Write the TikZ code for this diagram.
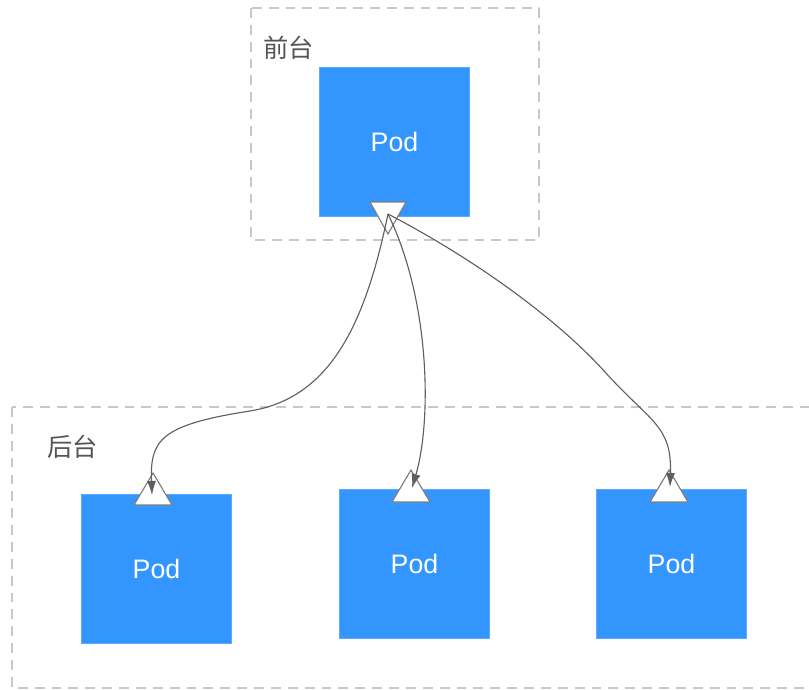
\documentclass[tikz,border=0pt]{standalone}
\usepackage{fontspec}
\setmainfont{Liberation Sans}
\newfontfamily\cjk{Noto Sans CJK SC}
\usetikzlibrary{arrows.meta,positioning}

\definecolor{podblue}{RGB}{51,150,255}
\definecolor{framegray}{RGB}{200,200,200}
\definecolor{labelgray}{RGB}{85,85,85}
\definecolor{linkgray}{RGB}{95,95,95}
\definecolor{trigray}{RGB}{125,125,125}

\tikzset{
    pod/.style={fill=podblue,draw=podblue!80!white,line width=0.5pt,inner sep=0pt,
        minimum width=107pt,minimum height=106pt,text=white,font=\fontsize{19}{22}\selectfont},
    group/.style={draw=framegray,line width=0.8pt,dash pattern=on 7pt off 5pt},
    grouplabel/.style={text=labelgray,font=\cjk\fontsize{18}{22}\selectfont,anchor=west,inner sep=0pt},
    tri/.style={draw=trigray,fill=white,line width=0.8pt,line join=miter},
    link/.style={draw=linkgray,line width=0.8pt,-{Latex[length=10pt,width=6.5pt]}}
}

\begin{document}
\begin{tikzpicture}[x=0.025cm,y=-0.025cm]
        \useasboundingbox (0,0) rectangle (809,690);

        %%%% Groups =====================================
        \draw[group] (251,8) rectangle (539,240);
        \node[grouplabel] (front) at (263,48) {前台};
        \draw[group] (12,407) rectangle (830,688);
        \node[grouplabel] (back) at (47,447) {后台};

        %%%% Pods =======================================
        \node[pod] (top) at (394.5,142) {Pod};
        \node[pod] (pod1) at (156.5,568.5) {Pod};
        \node[pod] (pod2) at (414.5,563.5) {Pod};
        \node[pod] (pod3) at (671.5,563.5) {Pod};

        %%%% Ports ======================================
        \coordinate (out) at (388,202);
        \coordinate (in1) at (153,505);
        \coordinate (in2) at (411,502);
        \coordinate (in3) at (669,502);
        \draw[tri] (out) ++(-18,0) -- ++(36,0) -- ++(-18,32) -- cycle;
        \draw[tri] (in1) ++(-19,0) -- ++(38,0) -- ++(-19,-32) -- cycle;
        \draw[tri] (in2) ++(-19,0) -- ++(38,0) -- ++(-19,-32) -- cycle;
        \draw[tri] (in3) ++(-19,0) -- ++(38,0) -- ++(-19,-32) -- cycle;

        % Arcs
        \coordinate (src) at (388,214);
        \coordinate (dst1) at (152,495);
        \coordinate (dst2) at (412,488);
        \coordinate (dst3) at (670,487);
        \draw[link] (src) .. controls (365,325) and (330,398) .. (250,411)
            .. controls (160,425) and (150,440) .. (dst1);
        \draw[link] (src) .. controls (430,300) and (432,420) .. (dst2);
        \draw[link] (src) .. controls (480,262) and (560,322) .. (605,372)
            .. controls (650,422) and (672,425) .. (dst3);
    \end{tikzpicture}
\end{document}
